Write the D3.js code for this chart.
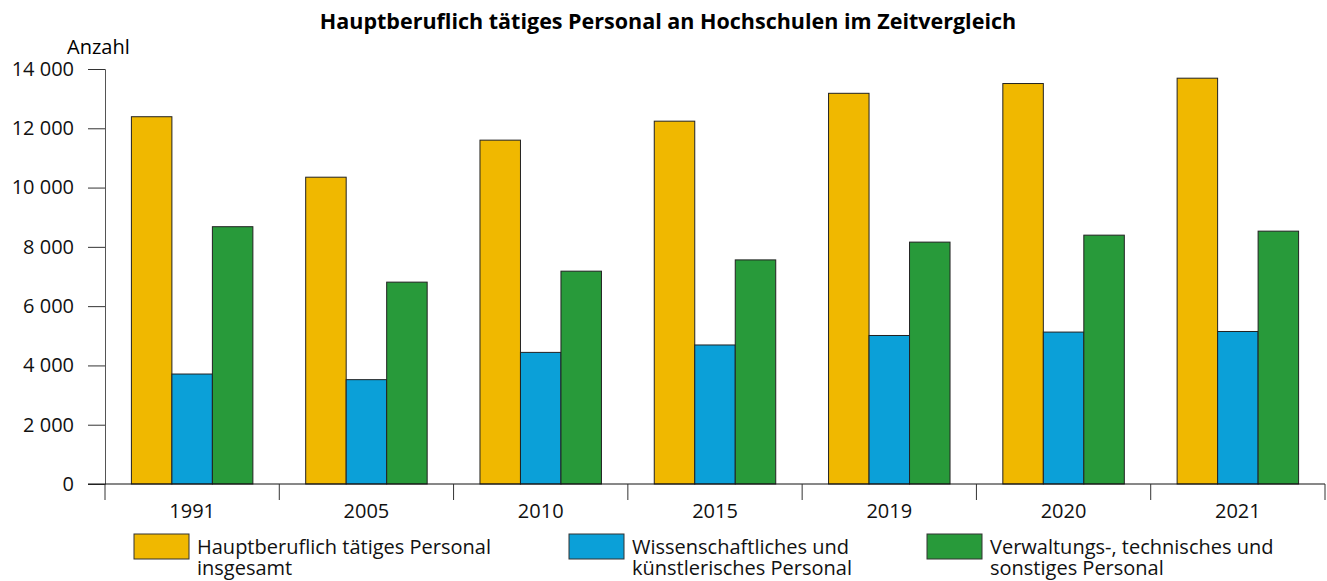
<!DOCTYPE html>
<html>
<head>
<meta charset="utf-8">
<script src="https://cdn.jsdelivr.net/npm/d3@7"></script>
<style>
  body { margin: 0; background: #fff; }
  svg { display: block; font-family: "Open Sans", sans-serif; }
</style>
</head>
<body>
<svg id="chart" width="1327" height="581"></svg>
<script>
const years = ['1991', '2005', '2010', '2015', '2019', '2020', '2021'];
const seriesNames = [
  ['Hauptberuflich tätiges Personal', 'insgesamt'],
  ['Wissenschaftliches und', 'künstlerisches Personal'],
  ['Verwaltungs-, technisches und', 'sonstiges Personal']
];
const total = [12390, 10350, 11600, 12240, 13180, 13510, 13690];
const wissenschaft = [3710, 3520, 4440, 4690, 5010, 5125, 5145];
const verwaltung = [8680, 6810, 7180, 7560, 8160, 8395, 8530];
const yTicks = [0, 2000, 4000, 6000, 8000, 10000, 12000, 14000];
const colors = ['#f0b800', '#0ba0d8', '#289a3a'];

const series = [total, wissenschaft, verwaltung];

const margin = {top: 69, right: 2, bottom: 97, left: 105};
const width = 1327, height = 581;
const svg = d3.select('#chart');

const x = d3.scaleBand()
  .domain(years)
  .range([margin.left, width - margin.right])
  .padding(0);

// bars take about 70% of each band
const x1 = d3.scaleBand()
  .domain(d3.range(series.length))
  .range([0, x.bandwidth() * 0.697])
  .padding(0);

const y = d3.scaleLinear()
  .domain([0, 14000])
  .range([height - margin.bottom, margin.top]);

const fmt = v => d3.format(',')(v).replace(/,/g, ' ');

// title
svg.append('text')
  .attr('x', 668)
  .attr('y', 29)
  .attr('text-anchor', 'middle')
  .attr('font-size', 21.5)
  .attr('font-weight', 'bold')
  .text('Hauptberuflich tätiges Personal an Hochschulen im Zeitvergleich');

svg.append('text')
  .attr('x', 67)
  .attr('y', 54)
  .attr('font-size', 20)
  .text('Anzahl');

// y axis
const yAxis = svg.append('g')
  .attr('transform', `translate(${margin.left},0)`)
  .call(d3.axisLeft(y).tickValues(yTicks).tickFormat(fmt).tickSize(17).tickPadding(14));
yAxis.select('.domain').attr('stroke', '#555');
yAxis.selectAll('.tick line').attr('stroke', '#333');
yAxis.selectAll('text').attr('font-size', 20).attr('fill', '#111').attr('font-family', '"Open Sans", sans-serif');

// bars
const groups = svg.append('g')
  .selectAll('g')
  .data(years)
  .join('g')
  .attr('transform', d => `translate(${x(d) + (x.bandwidth() - x1.range()[1]) / 2},0)`);

groups.selectAll('rect')
  .data((d, i) => series.map((s, k) => ({k: k, v: s[i]})))
  .join('rect')
  .attr('x', d => x1(d.k))
  .attr('y', d => y(d.v))
  .attr('width', x1.bandwidth())
  .attr('height', d => y(0) - y(d.v))
  .attr('fill', d => colors[d.k])
  .attr('stroke', '#222')
  .attr('stroke-width', 1);

// x axis with ticks at band edges
const xBase = y(0);
svg.append('line')
  .attr('x1', margin.left - 17).attr('x2', width - margin.right)
  .attr('y1', xBase).attr('y2', xBase)
  .attr('stroke', '#111');
const edges = years.map(d => x(d)).concat([x(years[years.length - 1]) + x.bandwidth()]);
svg.append('g').selectAll('line')
  .data(edges)
  .join('line')
  .attr('x1', d => d).attr('x2', d => d)
  .attr('y1', xBase).attr('y2', xBase + 16)
  .attr('stroke', '#333');
svg.append('g').selectAll('text')
  .data(years)
  .join('text')
  .attr('x', d => x(d) + x.bandwidth() / 2)
  .attr('y', xBase + 34)
  .attr('text-anchor', 'middle')
  .attr('font-size', 20)
  .attr('fill', '#111')
  .text(d => d);

// legend
const legendX = [134, 569, 927];
const legend = svg.append('g').selectAll('g')
  .data(seriesNames)
  .join('g')
  .attr('transform', (d, i) => `translate(${legendX[i]},534)`);
legend.append('rect')
  .attr('width', 55).attr('height', 25)
  .attr('fill', (d, i) => colors[i])
  .attr('stroke', '#333');
legend.append('text')
  .attr('x', 63)
  .attr('y', 20)
  .attr('font-size', 20)
  .attr('fill', '#111')
  .selectAll('tspan')
  .data(d => d)
  .join('tspan')
  .attr('x', 63)
  .attr('dy', (d, i) => i === 0 ? 0 : 21)
  .text(d => d);
</script>
</body>
</html>
